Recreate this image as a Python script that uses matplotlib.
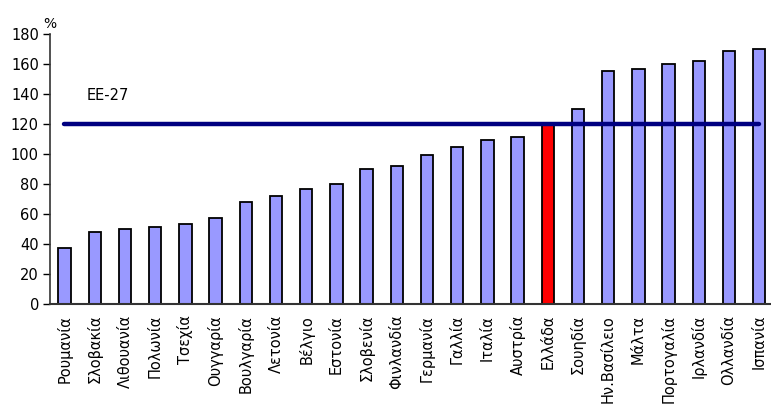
import matplotlib
matplotlib.use("Agg")
import matplotlib.pyplot as plt
import numpy as np

countries = ["Ρουμανία", "Σλοβακία", "Λιθουανία", "Πολωνία", "Τσεχία", "Ουγγαρία",
             "Βουλγαρία", "Λετονία", "Βέλγιο", "Εστονία", "Σλοβενία", "Φινλανδία",
             "Γερμανία", "Γαλλία", "Ιταλία", "Αυστρία", "Ελλάδα", "Σουηδία",
             "Ην.Βασίλειο", "Μάλτα", "Πορτογαλία", "Ιρλανδία", "Ολλανδία", "Ισπανία"]
values = [37, 48, 50, 51, 53.5, 57, 68, 72, 76.5, 80, 90, 92, 99, 104.5, 109, 111,
          120, 130, 155.5, 156.5, 160, 162, 168.5, 170]
eu27 = 120
highlight = "Ελλάδα"
yticks = [0, 20, 40, 60, 80, 100, 120, 140, 160, 180]

plt.rcParams['font.family'] = ['DejaVu Sans']

fig = plt.figure(figsize=(7.71, 4.2), dpi=100)
ax = fig.add_axes([50 / 771, 1 - 303.7 / 420, 1 - 50 / 771, (303.7 - 34) / 420])

x = np.arange(len(countries))
colors = ["#FF0000" if c == highlight else "#9999FF" for c in countries]
ax.bar(x, values, width=0.41, color=colors, edgecolor="black", linewidth=1.3, zorder=2)

ax.plot([x[0], x[-1]], [eu27, eu27], color="#000080", linewidth=3.2,
        solid_capstyle="round", zorder=3)
ax.text(0.72, 139, "EE-27", fontsize=10.5, ha="left", va="center")

ax.set_xlim(-0.48, 23.39)
ax.set_ylim(0, 180)
ax.set_yticks(yticks)
ax.tick_params(axis="y", direction="out", length=5, width=1, labelsize=10.5, pad=3)
ax.set_xticks(x)
ax.set_xticklabels(countries, rotation=90, fontsize=10.5)
ax.tick_params(axis="x", length=0, pad=8)
for lbl in ax.get_xticklabels():
    lbl.set_verticalalignment("top")

for side in ("top", "right"):
    ax.spines[side].set_visible(False)
ax.spines["left"].set_color("#333333")
ax.spines["bottom"].set_color("#333333")
ax.spines["left"].set_linewidth(1.2)
ax.spines["bottom"].set_linewidth(1.5)

ax.text(0.0, 1.012, "%", transform=ax.transAxes, fontsize=10, ha="center", va="bottom")

fig.savefig("out.png", dpi=100)
